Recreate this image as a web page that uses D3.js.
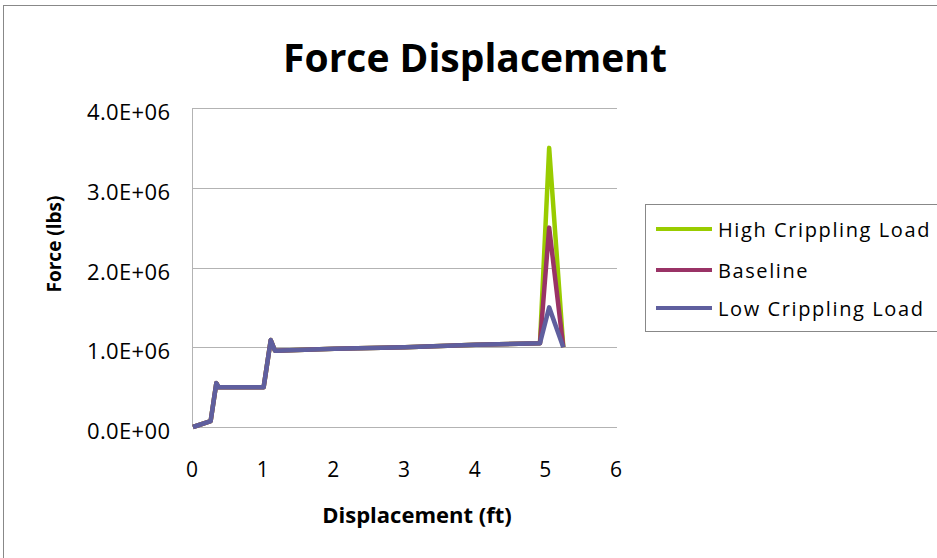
<!DOCTYPE html>
<html>
<head>
<meta charset="utf-8">
<script src="https://cdn.jsdelivr.net/npm/d3@7"></script>
<style>
  html, body { margin: 0; padding: 0; background: #fff; }
  svg { display: block; }
  text { font-family: "Open Sans", Lato, sans-serif; fill: #000; }
</style>
</head>
<body>
<svg id="chart" width="937" height="558"></svg>
<script>
// Displacement (ft) sample points shared by all three runs
const displacement = [0, 0.25, 0.33, 0.36, 1.0, 1.1, 1.16, 2.0, 3.0, 4.0, 4.91, 5.04, 5.24];
// Force (lbs) for each run
const highCrippling = [0, 75000, 550000, 500000, 500000, 1090000, 956000, 980000, 1000000, 1030000, 1050000, 3500000, 1000000];
const baseline      = [0, 75000, 550000, 500000, 500000, 1090000, 956000, 980000, 1000000, 1030000, 1050000, 2500000, 1000000];
const lowCrippling  = [0, 75000, 550000, 500000, 500000, 1090000, 956000, 980000, 1000000, 1030000, 1050000, 1500000, 1000000];

const seriesNames  = ["High Crippling Load", "Baseline", "Low Crippling Load"];
const seriesColors = ["#99CC00", "#993366", "#5F5F9E"];
const xTicks = [0, 1, 2, 3, 4, 5, 6];
const yTicks = [0, 1e6, 2e6, 3e6, 4e6];

const svg = d3.select("#chart");

// outer chart frame
svg.append("rect")
  .attr("x", 3.5).attr("y", 5.5).attr("width", 940).attr("height", 560)
  .attr("fill", "none").attr("stroke", "#888").attr("stroke-width", 1);

const x = d3.scaleLinear().domain([0, 6]).range([193, 617]);
const y = d3.scaleLinear().domain([0, 4e6]).range([427, 108]);

// horizontal gridlines
svg.append("g")
  .selectAll("line").data(yTicks).join("line")
  .attr("x1", x(0)).attr("x2", x(6))
  .attr("y1", d => Math.round(y(d)) + 0.5).attr("y2", d => Math.round(y(d)) + 0.5)
  .attr("stroke", "#b3b3b3").attr("stroke-width", 1);

// y axis line
svg.append("line")
  .attr("x1", x(0) - 0.5).attr("x2", x(0) - 0.5)
  .attr("y1", y(4e6)).attr("y2", y(0))
  .attr("stroke", "#b3b3b3");

// y tick labels in Excel-style scientific notation
const fmtSci = d => {
  const e = d === 0 ? 0 : Math.floor(Math.log10(d));
  const m = d / Math.pow(10, e);
  return m.toFixed(1) + "E+" + String(e).padStart(2, "0");
};
svg.append("g")
  .selectAll("text").data(yTicks).join("text")
  .attr("x", 170).attr("y", d => y(d) + 12)
  .attr("text-anchor", "end")
  .attr("textLength", 83).attr("lengthAdjust", "spacing")
  .style("font-size", "22px")
  .text(fmtSci);

// x tick labels
svg.append("g")
  .selectAll("text").data(xTicks).join("text")
  .attr("x", d => x(d) - 1).attr("y", 477)
  .attr("text-anchor", "middle")
  .style("font-size", "21px")
  .text(d => d);

// title and axis titles
svg.append("text")
  .attr("x", 475).attr("y", 72)
  .attr("text-anchor", "middle")
  .style("font-size", "39px").style("font-weight", "bold")
  .text("Force Displacement");

svg.append("text")
  .attr("x", 417).attr("y", 523)
  .attr("text-anchor", "middle")
  .style("font-size", "22px").style("font-weight", "bold")
  .text("Displacement (ft)");

svg.append("text")
  .attr("transform", "translate(61,244) rotate(-90)")
  .attr("text-anchor", "middle")
  .style("font-size", "19px").style("font-weight", "bold")
  .text("Force (lbs)");

// series lines
const seriesValues = [highCrippling, baseline, lowCrippling];
const line = d3.line().x(d => x(d[0])).y(d => y(d[1]));
seriesValues.forEach((vals, i) => {
  const pts = displacement.map((dx, j) => [dx, vals[j]]);
  svg.append("path")
    .attr("d", line(pts))
    .attr("fill", "none")
    .attr("stroke", seriesColors[i])
    .attr("stroke-width", 4.5)
    .attr("stroke-linejoin", "round");
});

// legend
const legend = svg.append("g");
legend.append("rect")
  .attr("x", 645.5).attr("y", 204.5).attr("width", 300).attr("height", 127)
  .attr("fill", "#fff").attr("stroke", "#888");
const legendY = [229, 270, 308];
seriesNames.forEach((name, i) => {
  legend.append("line")
    .attr("x1", 656).attr("x2", 712)
    .attr("y1", legendY[i]).attr("y2", legendY[i])
    .attr("stroke", seriesColors[i]).attr("stroke-width", 4);
  legend.append("text")
    .attr("x", 718).attr("y", legendY[i] + 8)
    .style("font-size", "20px")
    .style("letter-spacing", "1.6px")
    .text(name);
});
</script>
</body>
</html>
